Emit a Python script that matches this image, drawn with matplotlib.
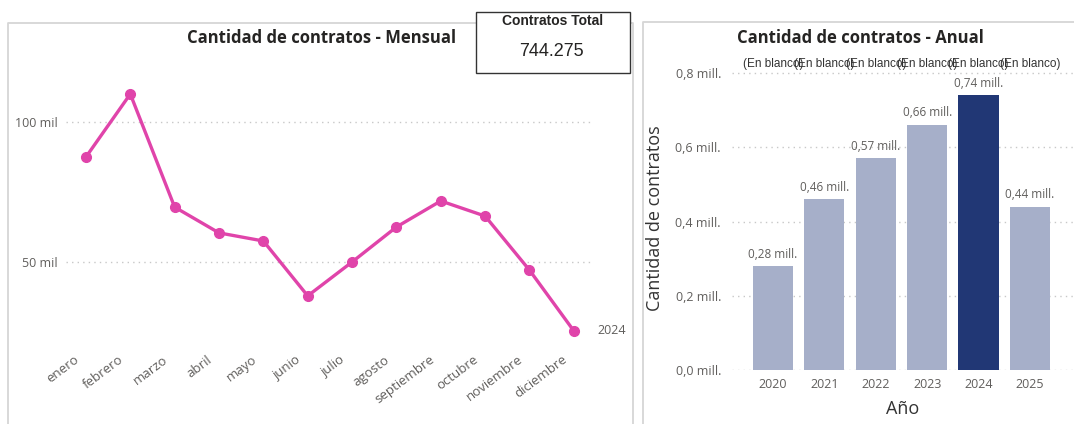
import matplotlib
matplotlib.use("Agg")
import matplotlib.pyplot as plt
from matplotlib.patches import Rectangle
from matplotlib.lines import Line2D
from matplotlib.ticker import FuncFormatter
from matplotlib.transforms import ScaledTranslation

# ---- data ----
months = ["enero", "febrero", "marzo", "abril", "mayo", "junio", "julio",
          "agosto", "septiembre", "octubre", "noviembre", "diciembre"]
monthly_2024 = [87500, 110000, 69600, 60400, 57500, 37900, 50000,
                62500, 71800, 66400, 47100, 25400]
series_name = "2024"
years = ["2020", "2021", "2022", "2023", "2024", "2025"]
annual = [0.28, 0.46, 0.57, 0.66, 0.74, 0.44]   # millones
highlight_year = "2024"
blank_labels = ["(En blanco)"] * 6
total_label = "Contratos Total"
total_value = "744.275"

W, H = 1074, 424
fig = plt.figure(figsize=(W / 100, H / 100), dpi=100)
fig.patch.set_facecolor("white")
FONT = ["Open Sans", "DejaVu Sans"]
plt.rcParams["font.family"] = FONT

def fx(px):
    return px / W

def fy(py):
    return 1 - py / H

TICK = "#605E5C"
GRID = "#C8C8C8"

# ---- panel borders ----
border = "#D6D6D6"
fig.add_artist(Line2D([fx(8), fx(8), fx(633), fx(633)],
                      [0, fy(23), fy(23), 0], color=border, lw=1.3,
                      transform=fig.transFigure))
fig.add_artist(Line2D([fx(643), fx(643), 1.0],
                      [0, fy(22), fy(22)], color=border, lw=1.3,
                      transform=fig.transFigure))

# ---- left: monthly line ----
ax1 = fig.add_axes([fx(66), fy(346), fx(526), (346 - 80) / H])
x = list(range(len(months)))
ax1.plot(x, monthly_2024, color="#E044AA", lw=2.4, marker="o", ms=7,
         solid_joinstyle="round", zorder=3)
ax1.set_xlim(-0.45, 11.41)
ax1.set_ylim(20000, 115000)
ax1.set_yticks([50000, 100000])
ax1.yaxis.set_major_formatter(FuncFormatter(lambda v, p: f"{int(v/1000)} mil"))
ax1.grid(axis="y", color=GRID, linestyle=(0, (1, 3)), lw=1)
ax1.tick_params(axis="x", length=0, pad=5)
ax1.tick_params(axis="y", length=0, pad=6, labelcolor=TICK, labelsize=9)
ax1.set_xticks(x)
ax1.set_xticklabels(months, rotation=37, ha="right", va="top",
                    rotation_mode="anchor", color=TICK, fontsize=9.5)
shift = ScaledTranslation(-12 / 100, 0, fig.dpi_scale_trans)
for lab in ax1.get_xticklabels():
    lab.set_transform(lab.get_transform() + shift)
for s in ax1.spines.values():
    s.set_visible(False)
ax1.annotate(series_name, (x[-1], monthly_2024[-1]), xytext=(17, 0),
             textcoords="offset points", va="center", ha="left",
             color=TICK, fontsize=9, annotation_clip=False)
fig.text(fx(322), fy(38), "Cantidad de contratos - Mensual", ha="center",
         va="center", fontsize=12, fontweight="bold", color="#252423")

# ---- card ----
fig.add_artist(Rectangle((fx(476), fy(73)), fx(154), (73 - 12) / H,
                         transform=fig.transFigure, facecolor="white",
                         edgecolor="#333333", lw=1.0, zorder=5))
fig.text(fx(553), fy(21), total_label, ha="center", va="center",
         fontsize=10, fontweight="bold", color="#252423",
         family=["Liberation Sans"], zorder=6)
fig.text(fx(551), fy(51), total_value, ha="center", va="center",
         fontsize=13, color="#252423", family=["Liberation Sans"], zorder=6)

# ---- right: annual bars ----
ax2 = fig.add_axes([fx(732), fy(370), fx(342), (370 - 65.6) / H])
xb = list(range(len(years)))
colors = ["#213775" if y == highlight_year else "#A6AFC9" for y in years]
bars = ax2.bar(xb, annual, width=0.78, color=colors, zorder=3)
ax2.set_xlim(-0.8, 5.86)
ax2.set_ylim(0, 0.82)
ax2.set_yticks([0, 0.2, 0.4, 0.6, 0.8])
ax2.yaxis.set_major_formatter(
    FuncFormatter(lambda v, p: f"{v:.1f}".replace(".", ",") + " mill."))
ax2.grid(axis="y", color=GRID, linestyle=(0, (1, 3)), lw=1)
ax2.set_xticks(xb)
ax2.set_xticklabels(years, color=TICK, fontsize=9)
ax2.tick_params(axis="x", length=0, pad=6)
ax2.tick_params(axis="y", length=0, pad=8, labelcolor=TICK, labelsize=9)
for s in ax2.spines.values():
    s.set_visible(False)
for xi, v in zip(xb, annual):
    ax2.annotate(f"{v:.2f}".replace(".", ",") + " mill.", (xi, v),
                 xytext=(0, 4), textcoords="offset points", ha="center",
                 va="bottom", fontsize=8.5, color=TICK)
for xi, lab in zip(xb, blank_labels):
    ax2.annotate(lab, (xi, 0.8), xytext=(0, 2), textcoords="offset points",
                 ha="center", va="bottom", fontsize=8.5, color="#333333",
                 family=["Liberation Sans"], annotation_clip=False)
ax2.set_ylabel("Cantidad de contratos", fontsize=13, color="#333333",
               labelpad=8)
ax2.set_xlabel("Año", fontsize=13, color="#333333", labelpad=6)
fig.text(fx(860), fy(38), "Cantidad de contratos - Anual", ha="center",
         va="center", fontsize=12, fontweight="bold", color="#252423")

fig.savefig("out.png", dpi=100, facecolor="white")
